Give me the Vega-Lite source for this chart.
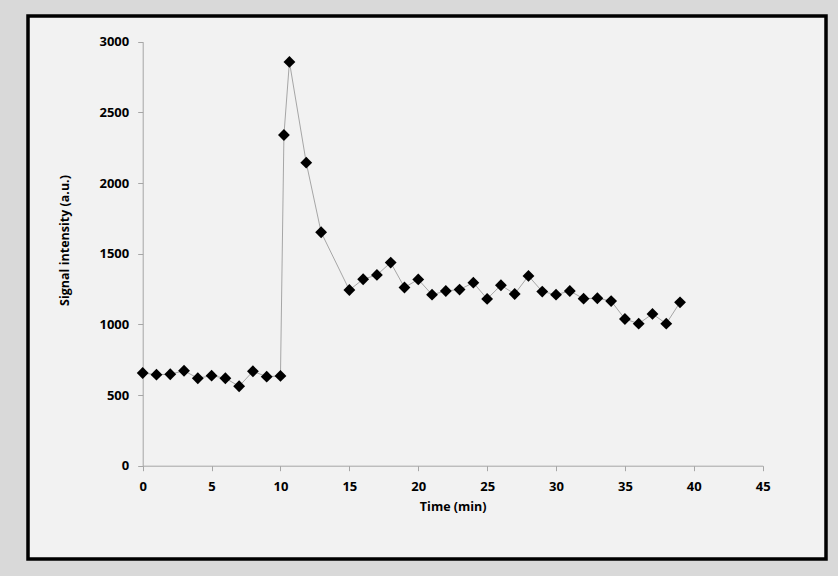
{
  "$schema": "https://vega.github.io/schema/vega-lite/v6.json",
  "width": 798,
  "height": 543,
  "autosize": {"type": "none"},
  "padding": {"left": 28, "top": 16, "right": 12, "bottom": 17},
  "background": "#d9d9d9",
  "config": {
    "view": {"fill": "#f2f2f2", "stroke": "#000000", "strokeWidth": 3.5},
    "font": "Open Sans"
  },
  "data": {
    "values": [
      {"time": 0, "signal": 656},
      {"time": 1, "signal": 644},
      {"time": 2, "signal": 647},
      {"time": 3, "signal": 672},
      {"time": 4, "signal": 619},
      {"time": 5, "signal": 637},
      {"time": 6, "signal": 619},
      {"time": 7, "signal": 562},
      {"time": 8, "signal": 668},
      {"time": 9, "signal": 630},
      {"time": 10, "signal": 635},
      {"time": 10.25, "signal": 2340},
      {"time": 10.65, "signal": 2857},
      {"time": 11.87, "signal": 2144},
      {"time": 12.95, "signal": 1652},
      {"time": 15, "signal": 1243},
      {"time": 16, "signal": 1319},
      {"time": 17, "signal": 1350},
      {"time": 18, "signal": 1437},
      {"time": 19, "signal": 1261},
      {"time": 20, "signal": 1318},
      {"time": 21, "signal": 1210},
      {"time": 22, "signal": 1236},
      {"time": 23, "signal": 1246},
      {"time": 24, "signal": 1295},
      {"time": 25, "signal": 1180},
      {"time": 26, "signal": 1277},
      {"time": 27, "signal": 1215},
      {"time": 28, "signal": 1343},
      {"time": 29, "signal": 1232},
      {"time": 30, "signal": 1210},
      {"time": 31, "signal": 1236},
      {"time": 32, "signal": 1182},
      {"time": 33, "signal": 1185},
      {"time": 34, "signal": 1165},
      {"time": 35, "signal": 1038},
      {"time": 36, "signal": 1005},
      {"time": 37, "signal": 1074},
      {"time": 38, "signal": 1005},
      {"time": 39, "signal": 1156}
    ]
  },
  "encoding": {
    "x": {
      "field": "time",
      "type": "quantitative",
      "scale": {"domain": [0, 45], "range": [114.7, 734.7], "nice": false, "zero": false},
      "axis": {
        "values": [0, 5, 10, 15, 20, 25, 30, 35, 40, 45],
        "format": "d",
        "grid": false,
        "offset": -93.3,
        "domainColor": "#a6a6a6",
        "tickColor": "#a6a6a6",
        "tickSize": 5,
        "labelFont": "Open Sans",
        "labelFontWeight": "bold",
        "labelFontSize": 13,
        "labelColor": "#000000",
        "labelPadding": 10,
        "labelFlush": false,
        "labelOverlap": false,
        "title": "Time (min)",
        "titleFont": "Open Sans",
        "titleFontWeight": "bold",
        "titleFontSize": 12.5,
        "titleColor": "#000000",
        "titlePadding": 7
      }
    },
    "y": {
      "field": "signal",
      "type": "quantitative",
      "scale": {"domain": [0, 3000], "range": [449.7, 25.7], "nice": false},
      "axis": {
        "values": [0, 500, 1000, 1500, 2000, 2500, 3000],
        "format": "d",
        "grid": false,
        "offset": -114.7,
        "domainColor": "#a6a6a6",
        "tickColor": "#a6a6a6",
        "tickSize": 5,
        "labelFont": "Open Sans",
        "labelFontWeight": "bold",
        "labelFontSize": 13,
        "labelColor": "#000000",
        "labelPadding": 9,
        "labelFlush": false,
        "labelOverlap": false,
        "title": "Signal intensity (a.u.)",
        "titleFont": "Open Sans",
        "titleFontWeight": "bold",
        "titleFontSize": 12.5,
        "titleColor": "#000000",
        "titlePadding": 27,
        "titleY": 224
      }
    }
  },
  "layer": [
    {"mark": {"type": "line", "color": "#a6a6a6", "strokeWidth": 1}},
    {"mark": {"type": "point", "shape": "diamond", "filled": true, "color": "#000000", "opacity": 1, "size": 140}}
  ]
}
